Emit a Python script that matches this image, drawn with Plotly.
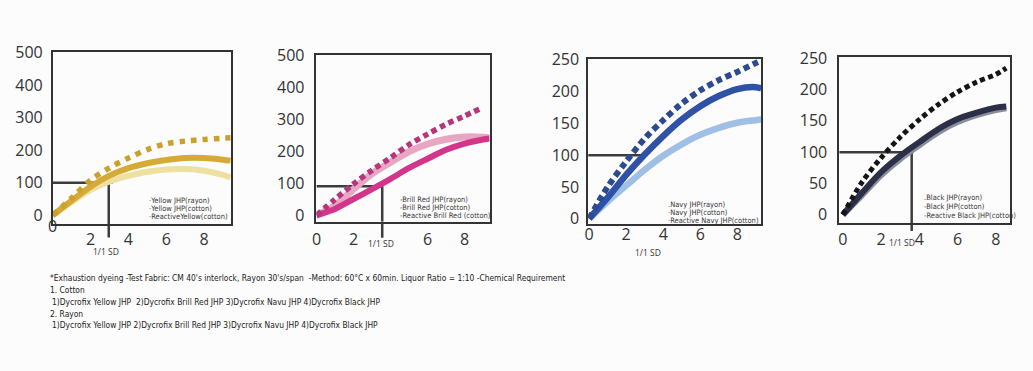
import plotly.graph_objects as go

W, H = 1033, 371

# ---------------- data ----------------
# Panel 1 : Yellow
x_yellow = [0, 1, 2, 3, 4, 5, 6, 7, 8, 9, 9.4]
yellow_rayon = [0, 53, 108, 146, 176, 202, 220, 228, 233, 237, 238]
yellow_cotton = [0, 45, 88, 122, 145, 160, 170, 176, 176, 171, 168]
yellow_reactive = [0, 41, 78, 104, 121, 134, 141, 142, 137, 124, 116]

# Panel 2 : Brill Red
x_red = [0, 1, 2, 3, 4, 5, 6, 7, 8, 9, 9.34]
x_red_rayon = [0, 1, 2, 3, 4, 5, 6, 7, 8, 8.9]
red_rayon = [0, 50, 98, 141, 180, 221, 254, 285, 311, 335]
red_cotton = [0, 20, 51, 82, 114, 148, 177, 205, 224, 237, 240]
red_reactive = [0, 30, 82, 130, 166, 199, 223, 238, 245, 244, 242]

# Panel 3 : Navy
x_navy = [0, 1, 2, 3, 4, 5, 6, 7, 8, 9, 9.3]
navy_rayon = [0, 50, 90, 126, 155, 181, 202, 218, 231, 245, 249]
navy_cotton = [0, 33, 69, 101, 130, 156, 177, 193, 204, 207, 205]
navy_reactive = [0, 27, 52, 77, 99, 117, 132, 143, 151, 155, 156]

# Panel 4 : Black
x_black = [0, 1, 2, 3, 4, 5, 6, 7, 8, 8.55]
black_rayon = [0, 52, 91, 124, 152, 176, 196, 212, 224, 234]
black_cotton = [0, 35, 68, 94, 116, 137, 153, 163, 171, 173]
black_reactive = [0, 31, 63, 89, 111, 132, 148, 159, 167, 170]

# 1/1 SD guide lines (level, vertical x, horizontal end x)
sd_level = [100, 91, 100, 100]
sd_x = [2.96, 3.55, None, 3.6]
sd_h_end = [3.16, 3.55, 2.9, 3.68]

# tick labels
y_ticks_500 = [0, 100, 200, 300, 400, 500]
y_ticks_250 = [0, 50, 100, 150, 200, 250]
x_ticks = [[2, 4, 6, 8], [0, 2, 6, 8], [0, 2, 4, 6, 8], [0, 2, 4, 6, 8]]

legend_texts = [
    ["\u00b7Yellow JHP(rayon)", "\u00b7Yellow JHP(cotton)", "\u00b7ReactiveYellow(cotton)"],
    ["-Brill Red JHP(rayon)", "-Brill Red JHP(cotton)", "-Reactive Brill Red (cotton)"],
    [".Navy JHP(rayon)", "\u00b7Navy JHP(cotton)", "\u00b7Reactive Navy JHP(cotton)"],
    [".Black JHP(rayon)", "-Black JHP(cotton)", "-Reactive Black JHP(cotton)"],
]

footnote_lines = [
    "*Exhaustion dyeing -Test Fabric: CM 40's interlock, Rayon 30's/span\u00a0 -Method: 60\u00b0C x 60min. Liquor Ratio = 1:10 -Chemical Requirement",
    "1. Cotton",
    "1)Dycrofix Yellow JHP\u00a0 2)Dycrofix Brill Red JHP 3)Dycrofix Navu JHP 4)Dycrofix Black JHP",
    "2. Rayon",
    "1)Dycrofix Yellow JHP 2)Dycrofix Brill Red JHP 3)Dycrofix Navu JHP 4)Dycrofix Black JHP",
]

# ---------------- layout helpers ----------------
def fx(p):
    return p / W


def fy(p):
    return 1 - p / H


BOXES = [(48, 227, 42.7, 222.5), (313, 487, 46, 220), (586, 760, 50.5, 223), (838.3, 1010, 48.3, 221.7)]
X_RANGES = [[0, 9.42], [0, 9.35], [-0.054, 9.30], [-0.19, 8.75]]
Y_RANGES = [[-26.5, 502.4], [-19.5, 501.5], [-9, 250.8], [-13.3, 251.5]]
Y_TICKS = [y_ticks_500, y_ticks_500, y_ticks_250, y_ticks_250]
Y_STANDOFF = [5, 7, 4, 7]
X_STANDOFF = [0, 2, -5, 1]
SD_BOTTOM = [236.7, 237, None, 230]
SD_LABEL = [(101, 251), (378, 243.3), (646, 252.7), (901, 241.5)]
LEG_POS = [(143, [198.3, 206.7, 215]), (395, [196.7, 205, 213.3]),
           (664, [202, 210.5, 219]), (921, [195, 204, 213.3])]

panels = [
    [(x_yellow, yellow_reactive, "#eee0a0", 6, "solid"),
     (x_yellow, yellow_cotton, "#d6aa36", 6, "solid"),
     (x_yellow, yellow_rayon, "#c9a12c", 5.5, "5.5px,6px")],
    [(x_red, red_reactive, "#e8a6c3", 7, "solid"),
     (x_red, red_cotton, "#d2358a", 6, "solid"),
     (x_red_rayon, red_rayon, "#b5367b", 5.5, "5.5px,4px")],
    [(x_navy, navy_reactive, "#a0bfe4", 6.5, "solid"),
     (x_navy, navy_cotton, "#2f52a6", 6.5, "solid"),
     (x_navy, navy_rayon, "#2c4a90", 6, "6px,4px")],
    [(x_black, black_reactive, "#8a8e99", 6, "solid"),
     (x_black, black_cotton, "#2b2f47", 6, "solid"),
     (x_black, black_rayon, "#151515", 5, "5px,3.5px")],
]

TICK_FONT = dict(family="Open Sans, Lato, sans-serif", size=16, color="#333333")
SMALL_FONT = "Liberation Sans Narrow, DejaVu Sans Condensed, Arial Narrow, sans-serif"
LINE_COL = "#333333"
GUIDE_COL = "#3c3c3c"

fig = go.Figure()
shapes = []
annotations = []

for i, series in enumerate(panels):
    n = i + 1
    xa = "x" if n == 1 else f"x{n}"
    ya = "y" if n == 1 else f"y{n}"
    l, r, t, b = BOXES[i]

    # guide lines (under the curves)
    lvl = sd_level[i]
    shapes.append(dict(type="line", xref=xa, yref=ya, x0=X_RANGES[i][0], x1=sd_h_end[i],
                       y0=lvl, y1=lvl, line=dict(color=GUIDE_COL, width=2.5), layer="below"))
    if sd_x[i] is not None:
        shapes.append(dict(type="line", xref=xa, yref=ya, x0=sd_x[i], x1=sd_x[i],
                           y0=lvl, y1=Y_RANGES[i][0], line=dict(color=GUIDE_COL, width=2.5), layer="below"))
        shapes.append(dict(type="line", xref=xa, yref="paper", x0=sd_x[i], x1=sd_x[i],
                           y0=fy(b), y1=fy(SD_BOTTOM[i]), line=dict(color=GUIDE_COL, width=2.5), layer="below"))

    for xs, ys, col, w, dash in series:
        fig.add_trace(go.Scatter(x=xs, y=ys, mode="lines", xaxis=xa, yaxis=ya,
                                 line=dict(color=col, width=w, dash=dash, shape="spline", smoothing=0.9),
                                 showlegend=False, hoverinfo="skip"))

    axis_x = dict(domain=[fx(l), fx(r)], range=X_RANGES[i], anchor=ya,
                  showline=True, mirror=True, linecolor=LINE_COL, linewidth=1.6,
                  showgrid=False, zeroline=False, ticks="", tickvals=x_ticks[i],
                  tickfont=TICK_FONT, ticklabelstandoff=X_STANDOFF[i], fixedrange=True)
    axis_y = dict(domain=[fy(b), fy(t)], range=Y_RANGES[i], anchor=xa,
                  showline=True, mirror=True, linecolor=LINE_COL, linewidth=1.6,
                  showgrid=False, zeroline=False, ticks="", tickvals=Y_TICKS[i],
                  tickfont=TICK_FONT, ticklabelstandoff=Y_STANDOFF[i], fixedrange=True)
    key = "" if n == 1 else str(n)
    fig.update_layout(**{f"xaxis{key}": axis_x, f"yaxis{key}": axis_y})

    # "1/1 SD" label
    sx, sy = SD_LABEL[i]
    annotations.append(dict(text="1/1 SD", xref="paper", yref="paper", x=fx(sx), y=fy(sy),
                            xanchor="center", yanchor="middle", showarrow=False,
                            font=dict(family="Open Sans, sans-serif", size=8.5, color="#333333")))

    # in-plot legend text
    lx, lys = LEG_POS[i]
    for txt, ly in zip(legend_texts[i], lys):
        annotations.append(dict(text=txt, xref="paper", yref="paper", x=fx(lx), y=fy(ly),
                                xanchor="left", yanchor="middle", showarrow=False,
                                font=dict(family=SMALL_FONT, size=7.5, color="#3a3a3a")))

# corner "0" of first panel x axis
annotations.append(dict(text="0", xref="x", yref="paper", x=0, y=fy(224.5), xanchor="center",
                        yanchor="middle", showarrow=False, font=TICK_FONT))

# footnote
foot_x = [43, 43, 45.5, 43, 45.5]
foot_y = [279, 291.3, 303.6, 316.2, 328.5]
for txt, px_, py_ in zip(footnote_lines, foot_x, foot_y):
    annotations.append(dict(text=txt, xref="paper", yref="paper", x=fx(px_), y=fy(py_),
                            xanchor="left", yanchor="middle", showarrow=False,
                            font=dict(family=SMALL_FONT, size=8.4, color="#222222")))

fig.update_layout(width=W, height=H, margin=dict(l=0, r=0, t=0, b=0),
                  paper_bgcolor="#fcfcfc", plot_bgcolor="rgba(0,0,0,0)",
                  shapes=shapes, annotations=annotations, showlegend=False)

fig.write_html("out.html", config={"displayModeBar": False},
               post_script="document.body.style.margin='0';document.body.style.overflow='hidden';")
